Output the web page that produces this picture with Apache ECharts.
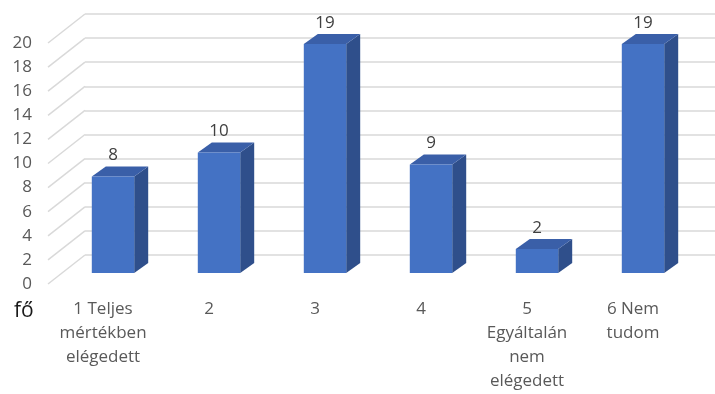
<!DOCTYPE html>
<html><head><meta charset="utf-8">
<script src="https://cdn.jsdelivr.net/npm/echarts@6/dist/echarts.min.js"></script>
<style>html,body{margin:0;padding:0;background:#fff}#c{width:715px;height:394px}</style>
</head><body><div id="c"></div>
<script>
const categories = ['1 Teljes\nmértékben\nelégedett', '2', '3', '4', '5\nEgyáltalán\nnem\nelégedett', '6 Nem\ntudom'];
const values = [8, 10, 19, 9, 2, 19];
const yTicks = [0, 2, 4, 6, 8, 10, 12, 14, 16, 18, 20];
const yUnit = 'fő';

const FONT = 'Open Sans';
const DX = 37, DY = -29;      // depth of the floor / wall
const BX = 12, BY = -11;      // bar position inside depth
const SDX = 14, SDY = -10;    // bar depth

const chart = echarts.init(document.getElementById('c'), null, {renderer: 'canvas'});
chart.setOption({
  animation: false,
  textStyle: {fontFamily: FONT},
  grid: [
    {left: 48, right: 31, top: 43, bottom: 110},
    {left: 85, right: 0, top: 14, bottom: 139}
  ],
  xAxis: [
    {type: 'category', gridIndex: 0, data: categories,
     axisLine: {show: false}, axisTick: {show: false},
     axisLabel: {interval: 0, color: '#595959', fontSize: 17, lineHeight: 24, margin: 13,
                 padding: [0, 0, 0, 4], fontFamily: FONT}},
    {type: 'value', gridIndex: 1, min: 0, max: 1, show: false}
  ],
  yAxis: [
    {type: 'value', gridIndex: 0, min: 0, max: 20, interval: 2,
     axisLine: {show: false}, axisTick: {show: false}, splitLine: {show: false},
     axisLabel: {color: '#595959', fontSize: 17, margin: 16, fontFamily: FONT}},
    {type: 'value', gridIndex: 1, min: 0, max: 20, interval: 2,
     axisLine: {show: false}, axisTick: {show: false}, axisLabel: {show: false},
     splitLine: {lineStyle: {color: '#d9d9d9', width: 1.5}}}
  ],
  graphic: [
    {type: 'text', left: 14, top: 301, style: {text: yUnit, fontSize: 21, fill: '#1a1a1a', fontFamily: FONT}}
  ],
  series: [
    {
      type: 'custom', xAxisIndex: 0, yAxisIndex: 0, silent: true,
      data: yTicks.map(v => [0, v]),
      renderItem: function (params, api) {
        const y = api.coord([0, api.value(1)])[1];
        const x = params.coordSys.x;
        return {type: 'line', shape: {x1: x, y1: y, x2: x + DX, y2: y + DY},
                style: {stroke: '#d9d9d9', lineWidth: 1.5}};
      }
    },
    {
      type: 'custom', xAxisIndex: 0, yAxisIndex: 0,
      data: values.map((v, i) => [i, v]),
      renderItem: function (params, api) {
        const i = api.value(0), v = api.value(1);
        const base = api.coord([i, 0]);
        const top = api.coord([i, v]);
        const w = api.size([1, 0])[0] * 0.4;
        const cx = base[0] + BX;
        const x0 = cx - w / 2, x1 = cx + w / 2;
        const y0 = top[1] + BY, y1 = base[1] + BY;
        return {type: 'group', children: [
          {type: 'polygon', shape: {points: [[x1, y0], [x1 + SDX, y0 + SDY], [x1 + SDX, y1 + SDY], [x1, y1]]},
           style: {fill: '#2f4f8b'}},
          {type: 'polygon', shape: {points: [[x0, y0], [x1, y0], [x1 + SDX, y0 + SDY], [x0 + SDX, y0 + SDY]]},
           style: {fill: '#3a5fa8'}},
          {type: 'rect', shape: {x: x0, y: y0, width: w, height: y1 - y0},
           style: {fill: '#4472c4'}},
          {type: 'text', x: cx, y: y0 + SDY - 11,
           style: {text: String(v), fill: '#404040', fontSize: 17, fontFamily: FONT, align: 'center', verticalAlign: 'middle'}}
        ]};
      }
    }
  ]
});
</script>
</body></html>
